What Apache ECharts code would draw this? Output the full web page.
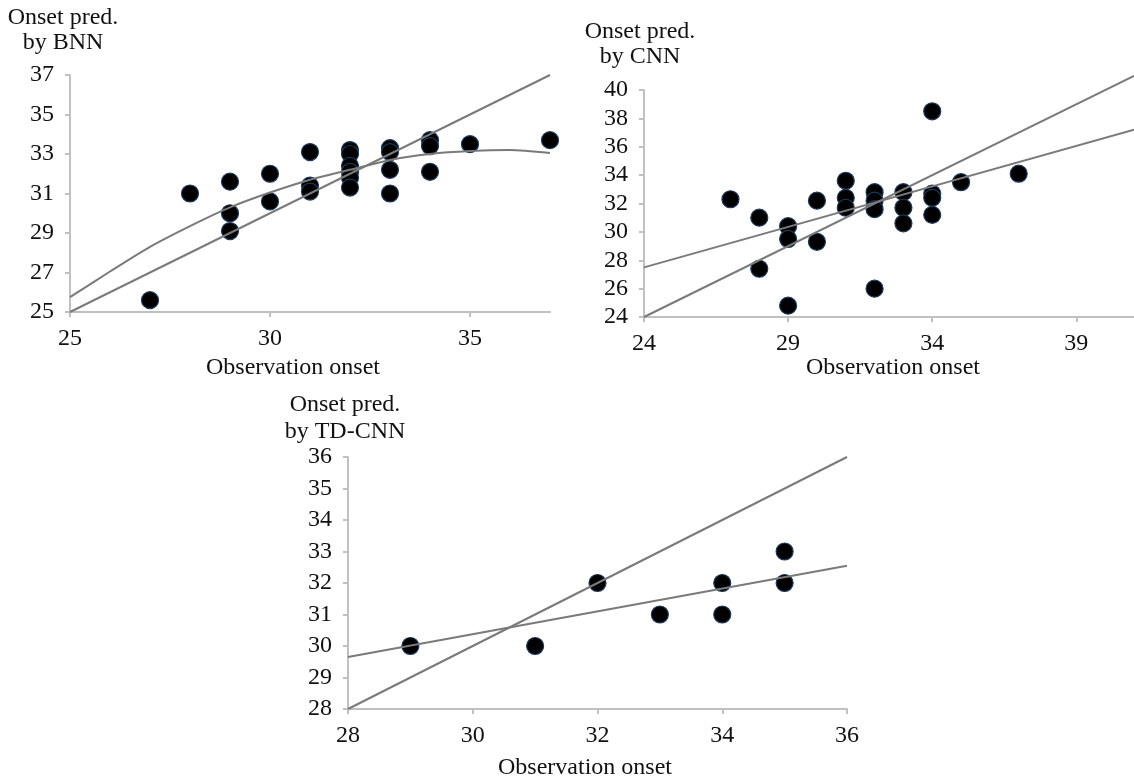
<!DOCTYPE html>
<html>
<head>
<meta charset="utf-8">
<script src="https://cdn.jsdelivr.net/npm/echarts@6/dist/echarts.min.js"></script>
<style>
html,body{margin:0;padding:0;background:#fff;overflow:hidden;}
#chart{width:1134px;height:780px;}
</style>
</head>
<body>
<div id="chart"></div>
<script>
// ---- Panel 1: BNN ----
const bnnObs  = [27, 28, 29, 29, 29, 30, 30, 31, 31, 31, 32, 32, 32, 32, 32, 32, 33, 33, 33, 33, 34, 34, 34, 35, 37];
const bnnPred = [25.6, 31.0, 31.6, 30.0, 29.1, 32.0, 30.6, 33.1, 31.4, 31.1, 33.2, 33.0, 32.4, 32.1, 31.8, 31.3, 33.3, 33.1, 32.2, 31.0, 33.7, 33.4, 32.1, 33.5, 33.7];
const bnnTrendX = [25, 26, 27, 28, 29, 30, 31, 32, 33, 34, 35, 36, 37];
const bnnTrendY = [25.75, 27.05, 28.3, 29.35, 30.3, 31.05, 31.7, 32.2, 32.7, 33.0, 33.15, 33.2, 33.05];
const bnnIdentity = [25, 37];
const bnnXTicks = [25, 30, 35];
const bnnYTicks = [25, 27, 29, 31, 33, 35, 37];

// ---- Panel 2: CNN ----
const cnnObs  = [27, 28, 28, 29, 29, 29, 30, 30, 31, 31, 31, 32, 32, 32, 32, 33, 33, 33, 34, 34, 34, 34, 35, 37];
const cnnPred = [32.3, 31.0, 27.4, 30.4, 29.5, 24.8, 32.2, 29.3, 33.6, 32.4, 31.7, 32.8, 32.2, 31.6, 26.0, 32.8, 31.7, 30.6, 38.5, 32.7, 32.4, 31.2, 33.5, 34.1];
const cnnFitX = [24, 41];
const cnnFitY = [27.5, 37.2];
const cnnIdentity = [24, 41];
const cnnXTicks = [24, 29, 34, 39];
const cnnYTicks = [24, 26, 28, 30, 32, 34, 36, 38, 40];

// ---- Panel 3: TD-CNN ----
const tdObs  = [29, 31, 32, 33, 34, 34, 35, 35];
const tdPred = [30, 30, 32, 31, 32, 31, 33, 32];
const tdFitX = [28, 36];
const tdFitY = [29.65, 32.55];
const tdIdentity = [28, 36];
const tdXTicks = [28, 30, 32, 34, 36];
const tdYTicks = [28, 29, 30, 31, 32, 33, 34, 35, 36];

const titles = ['Onset pred.\nby BNN', 'Onset pred.\nby CNN', 'Onset pred.\nby TD-CNN'];
const xTitle = 'Observation onset';

const FONT = '"Liberation Serif", "Times New Roman", serif';
const FS = 24;
const zip = (a, b) => a.map((v, i) => [v, b[i]]);

function xAxisCfg(idx, min, max, ticks) {
  return {
    type: 'value', gridIndex: idx, min: min, max: max,
    axisLine: { show: true, lineStyle: { color: '#c0c0c0', width: 2 } },
    axisTick: { show: true, length: 5, lineStyle: { color: '#c0c0c0', width: 2 }, customValues: ticks },
    axisLabel: { customValues: ticks, fontFamily: FONT, fontSize: FS, color: '#111', margin: 15 },
    splitLine: { show: false }
  };
}
function yAxisCfg(idx, min, max, ticks) {
  return {
    type: 'value', gridIndex: idx, min: min, max: max,
    axisLine: { show: true, lineStyle: { color: '#c0c0c0', width: 2 } },
    axisTick: { show: true, length: 5, lineStyle: { color: '#c0c0c0', width: 2 }, customValues: ticks },
    axisLabel: { customValues: ticks, fontFamily: FONT, fontSize: FS, color: '#111', margin: 16 },
    splitLine: { show: false }
  };
}
function scatter(idx, xs, ys) {
  return {
    type: 'scatter', xAxisIndex: idx, yAxisIndex: idx, data: zip(xs, ys),
    symbolSize: 17, z: 2,
    itemStyle: { color: '#000', opacity: 1, borderColor: '#1d3a5c', borderWidth: 1.2 }
  };
}
function line(idx, xs, ys, smooth) {
  return {
    type: 'line', xAxisIndex: idx, yAxisIndex: idx, data: zip(xs, ys),
    showSymbol: false, smooth: smooth ? 0.25 : false, z: 3, silent: true, clip: false,
    lineStyle: { color: '#7a7a7a', width: 2 }
  };
}

const chart = echarts.init(document.getElementById('chart'), null, { renderer: 'canvas' });
const tStyle = (text, lh) => ({ text: text, font: FS + 'px ' + FONT, fill: '#111', align: 'center', verticalAlign: 'top', lineHeight: lh });
chart.setOption({
  animation: false,
  backgroundColor: '#fff',
  grid: [
    { left: 70, top: 75, width: 480, height: 237 },
    { left: 644, top: 90, width: 495, height: 227 },
    { left: 348, top: 457, width: 499, height: 252 }
  ],
  xAxis: [
    xAxisCfg(0, 25, 37, bnnXTicks),
    xAxisCfg(1, 24, 41, cnnXTicks),
    xAxisCfg(2, 28, 36, tdXTicks)
  ],
  yAxis: [
    yAxisCfg(0, 25, 37, bnnYTicks),
    yAxisCfg(1, 24, 40, cnnYTicks),
    yAxisCfg(2, 28, 36, tdYTicks)
  ],
  graphic: [
    { type: 'text', x: 63, y: 5, style: tStyle(titles[0], 25) },
    { type: 'text', x: 640, y: 19, style: tStyle(titles[1], 25) },
    { type: 'text', x: 345, y: 391, style: tStyle(titles[2], 27) },
    { type: 'text', x: 293, y: 355, style: tStyle(xTitle, 26) },
    { type: 'text', x: 893, y: 355, style: tStyle(xTitle, 26) },
    { type: 'text', x: 585, y: 755, style: tStyle(xTitle, 26) }
  ],
  series: [
    scatter(0, bnnObs, bnnPred),
    line(0, bnnTrendX, bnnTrendY, true),
    line(0, bnnIdentity, bnnIdentity, false),
    scatter(1, cnnObs, cnnPred),
    line(1, cnnFitX, cnnFitY, false),
    line(1, cnnIdentity, cnnIdentity, false),
    scatter(2, tdObs, tdPred),
    line(2, tdFitX, tdFitY, false),
    line(2, tdIdentity, tdIdentity, false)
  ]
});
</script>
</body>
</html>
